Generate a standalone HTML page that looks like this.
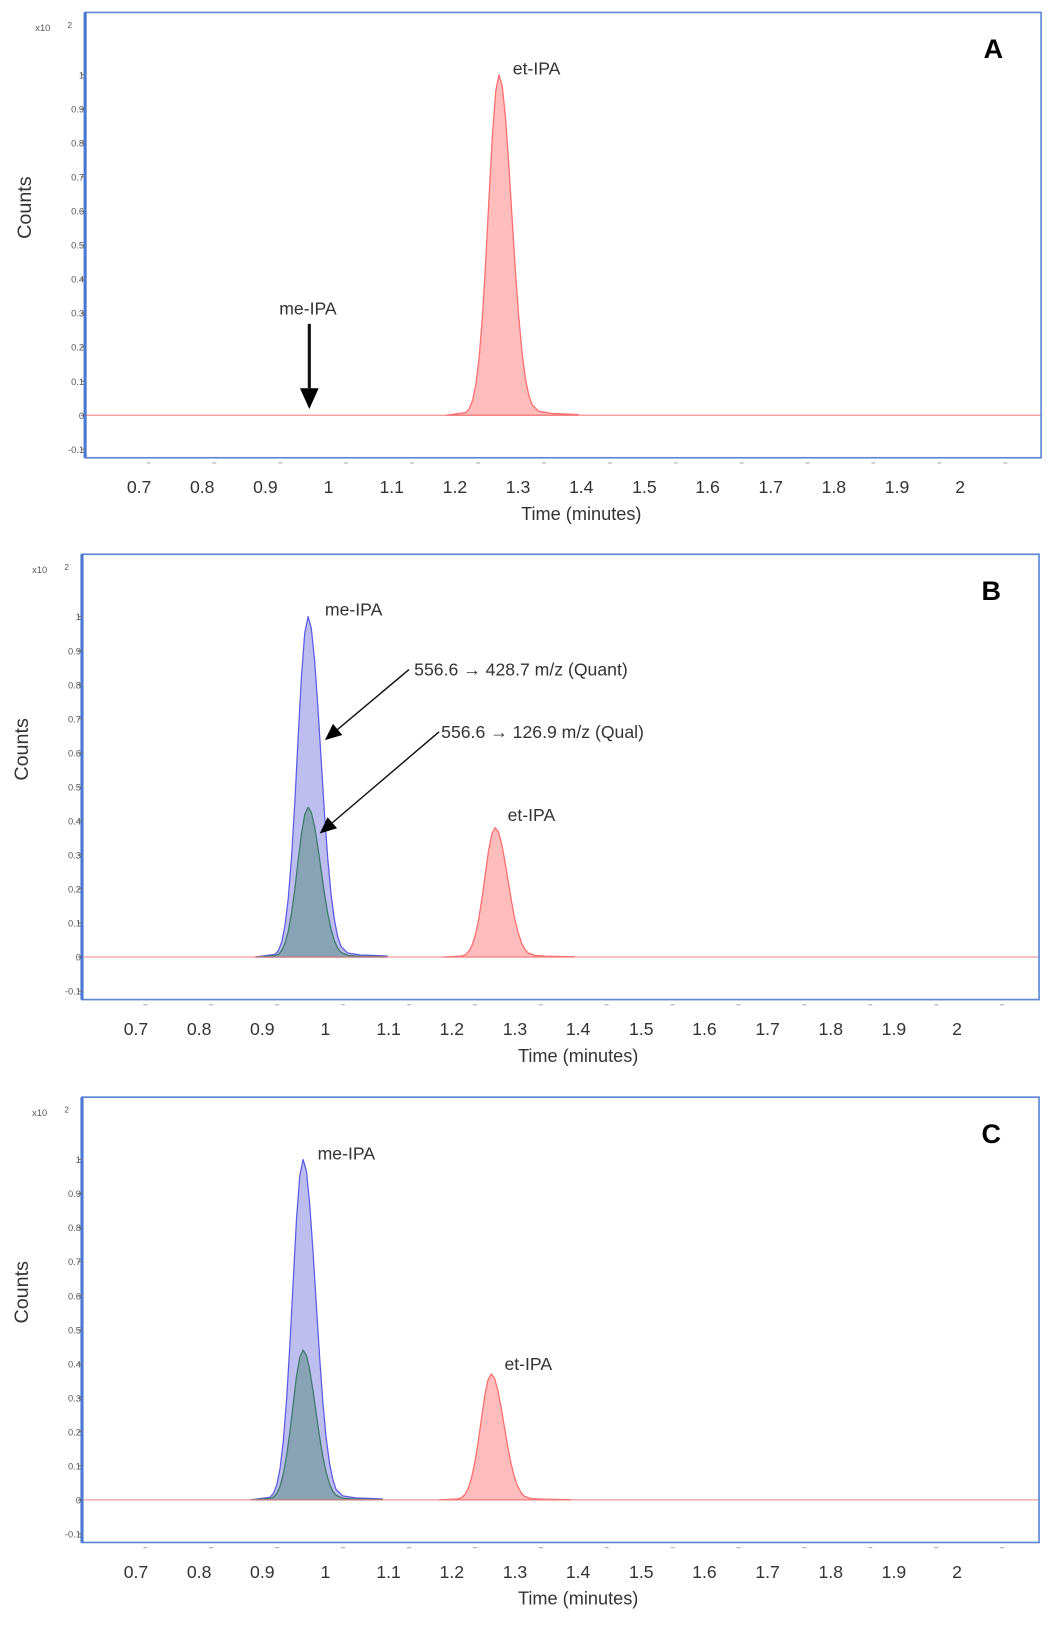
<!DOCTYPE html>
<html><head><meta charset="utf-8"><style>
html,body{margin:0;padding:0;background:#fff;}
svg{display:block;font-family:"Liberation Sans",sans-serif;}
</style></head><body>
<svg id="c" width="1050" height="1628" viewBox="0 0 1050 1628" xmlns="http://www.w3.org/2000/svg"><g id="root" transform="scale(1.038)"></g></svg>
<script>
// ---- data ----
const xTickValues = [0.7,0.8,0.9,1.0,1.1,1.2,1.3,1.4,1.5,1.6,1.7,1.8,1.9,2.0];
const xTickLabels = ["0.7","0.8","0.9","1","1.1","1.2","1.3","1.4","1.5","1.6","1.7","1.8","1.9","2"];
const yTickValues = [-0.1,0,0.1,0.2,0.3,0.4,0.5,0.6,0.7,0.8,0.9,1.0];
const yTickLabels = ["-0.1","0","0.1","0.2","0.3","0.4","0.5","0.6","0.7","0.8","0.9","1"];
const panelNames = ["A","B","C"];
// Panel A: et-IPA
const aEtTimes = [1.155,1.185,1.19,1.195,1.2,1.205,1.21,1.215,1.22,1.225,1.23,1.235,1.24,1.245,1.25,1.255,1.26,1.265,1.27,1.275,1.28,1.285,1.295,1.315,1.355];
const aEtCounts = [0,0.008,0.019,0.044,0.092,0.172,0.295,0.458,0.644,0.823,0.952,1,0.966,0.871,0.732,0.575,0.421,0.288,0.183,0.109,0.06,0.031,0.012,0.005,0.002];
// Panel B
const bMeTimes = [0.87,0.90,0.905,0.91,0.915,0.92,0.925,0.93,0.935,0.94,0.945,0.95,0.955,0.96,0.965,0.97,0.975,0.98,0.985,0.99,0.995,1.0,1.01,1.03,1.07];
const bMeQuant = [0,0.008,0.019,0.044,0.092,0.172,0.295,0.458,0.644,0.823,0.952,1,0.966,0.871,0.732,0.575,0.421,0.288,0.183,0.109,0.06,0.031,0.012,0.006,0.003];
const bMeQual = [0,0.004,0.008,0.019,0.04,0.076,0.13,0.2,0.283,0.362,0.419,0.44,0.425,0.383,0.322,0.253,0.185,0.127,0.081,0.048,0.026,0.014,0.005,0.002,0.001];
const bEtTimes = [1.154,1.184,1.189,1.194,1.199,1.204,1.209,1.214,1.219,1.224,1.229,1.234,1.239,1.244,1.249,1.254,1.259,1.264,1.269,1.274,1.279,1.284,1.294,1.314,1.354];
const bEtCounts = [0,0.003,0.007,0.017,0.035,0.065,0.112,0.174,0.245,0.313,0.362,0.38,0.367,0.331,0.278,0.219,0.16,0.109,0.07,0.041,0.023,0.012,0.005,0.002,0.001];
// Panel C
const cMeTimes = [0.8625,0.8925,0.8975,0.9025,0.9075,0.9125,0.9175,0.9225,0.9275,0.9325,0.9375,0.9425,0.9475,0.9525,0.9575,0.9625,0.9675,0.9725,0.9775,0.9825,0.9875,0.9925,1.0025,1.0225,1.0625];
const cMeQuant = [0,0.008,0.019,0.044,0.092,0.172,0.295,0.458,0.644,0.823,0.952,1,0.966,0.871,0.732,0.575,0.421,0.288,0.183,0.109,0.06,0.031,0.012,0.006,0.003];
const cMeQual = [0,0.004,0.008,0.019,0.04,0.076,0.13,0.2,0.283,0.362,0.419,0.44,0.425,0.383,0.322,0.253,0.185,0.127,0.081,0.048,0.026,0.014,0.005,0.002,0.001];
const cEtTimes = [1.148,1.178,1.183,1.188,1.193,1.198,1.203,1.208,1.213,1.218,1.223,1.228,1.233,1.238,1.243,1.248,1.253,1.258,1.263,1.268,1.273,1.278,1.288,1.308,1.348];
const cEtCounts = [0,0.003,0.007,0.016,0.034,0.064,0.109,0.169,0.238,0.305,0.352,0.37,0.357,0.322,0.271,0.213,0.156,0.107,0.068,0.04,0.022,0.011,0.004,0.002,0.001];

const svg = document.getElementById('root');
const NS = 'http://www.w3.org/2000/svg';
function mk(tag, attrs, parent){const e=document.createElementNS(NS,tag);for(const k in attrs)e.setAttribute(k,attrs[k]);(parent||svg).appendChild(e);return e;}
function txt(s, attrs, parent){const e=mk('text',attrs,parent);e.textContent=s;return e;}

const panels = [
 {left:82, top:12, right:1003, bottom:441, dx:0, series:[{t:aEtTimes,v:aEtCounts,fill:'#ffbcbc',stroke:'#ff6a6a',name:'et-ipa-peak'}]},
 {left:79, top:534, right:1001, bottom:963, dx:-3, series:[
   {t:bMeTimes,v:bMeQuant,fill:'#bdbdf0',stroke:'#5a5ae6',name:'me-ipa-quant-peak'},
   {t:bMeTimes,v:bMeQual,fill:'#88a2b6',stroke:'#3d7a68',name:'me-ipa-qual-peak'},
   {t:bEtTimes,v:bEtCounts,fill:'#ffbcbc',stroke:'#ff6a6a',name:'et-ipa-peak'}]},
 {left:79, top:1057, right:1001, bottom:1486, dx:-3, series:[
   {t:cMeTimes,v:cMeQuant,fill:'#bdbdf0',stroke:'#5a5ae6',name:'me-ipa-quant-peak'},
   {t:cMeTimes,v:cMeQual,fill:'#88a2b6',stroke:'#3d7a68',name:'me-ipa-qual-peak'},
   {t:cEtTimes,v:cEtCounts,fill:'#ffbcbc',stroke:'#ff6a6a',name:'et-ipa-peak'}]}
];

panels.forEach((p,i)=>{
  const g = mk('g',{});
  
  
  const off = p.top-12;
  const x = t => 141 + p.dx + (t-0.7)*635;
  const lx = t => 134 + p.dx + (t-0.7)*608.5;
  const y = v => off + 400 - v*328;
  p.series.forEach(s=>{
    let d = 'M'+x(s.t[0])+','+y(0);
    s.t.forEach((t,k)=>{d+=' L'+x(t).toFixed(1)+','+y(s.v[k]).toFixed(1);});
    d+=' L'+x(s.t[s.t.length-1])+','+y(0)+' Z';
    const path = mk('path',{d:d,fill:s.fill,stroke:s.stroke,'stroke-width':1.2,'stroke-linejoin':'round'},g);
    
    
  });
  const bl = mk('line',{x1:p.left,x2:p.right,y1:y(0),y2:y(0),stroke:'#f08080','stroke-width':1},g);
  
  
  const fr = mk('rect',{x:p.left,y:p.top,width:p.right-p.left,height:p.bottom-p.top,fill:'none',stroke:'#5b87d6','stroke-width':1.6},g);
  
  
  mk('line',{x1:p.left,x2:p.left,y1:p.top,y2:p.bottom,stroke:'#4a78d0','stroke-width':3},g);
  yTickValues.forEach((v,k)=>{
    mk('line',{x1:p.left-4,x2:p.left,y1:y(v),y2:y(v),stroke:'#777','stroke-width':1},g);
    const tl = txt(yTickLabels[k],{x:p.left-1,y:y(v)+3.5,'font-size':9,fill:'#555','text-anchor':'end'},g);
    
    
  });
  const ex = txt('x10',{x:p.left-48,y:off+30,'font-size':9,fill:'#555'},g);
  
  
  txt('2',{x:p.left-17,y:off+27,'font-size':8,fill:'#555'},g);
  const yt = txt('Counts',{x:0,y:0,'font-size':19,fill:'#333','text-anchor':'middle',transform:'translate('+(p.left-52)+','+(off+200)+') rotate(-90)'},g);
  
  
  xTickValues.forEach((t,k)=>{
    mk('line',{x1:x(t),x2:x(t)+4,y1:p.bottom+5,y2:p.bottom+5,stroke:'#aaa','stroke-width':1},g);
    const tl = txt(xTickLabels[k],{x:lx(t),y:off+475,'font-size':17,fill:'#333','text-anchor':'middle'},g);
    
    
  });
  const xt = txt('Time (minutes)',{x:560+p.dx,y:off+501,'font-size':17.5,fill:'#333','text-anchor':'middle'},g);
  
  
  const pl = txt(panelNames[i],{x:p.right-46,y:off+56,'font-size':26,'font-weight':'bold',fill:'#000','text-anchor':'middle'},g);
  
  
});

function label(s,x,y,name,size){const t=txt(s,{x:x,y:y,'font-size':size||17,fill:'#333'});return t;}
function arrow(x1,y1,x2,y2,name,w){
  const g=mk('g',{});
  const a=Math.atan2(y2-y1,x2-x1), L=w?20:16, W=w?9:7;
  const bx=x2-L*Math.cos(a), by=y2-L*Math.sin(a);
  mk('line',{x1:x1,y1:y1,x2:bx,y2:by,stroke:'#111','stroke-width':w||1.4},g);
  const px=-Math.sin(a)*W, py=Math.cos(a)*W;
  mk('polygon',{points:`${x2},${y2} ${bx+px},${by+py} ${bx-px},${by-py}`,fill:'#000'},g);
}
label('et-IPA',494,72,'et-ipa-label');
label('me-IPA',269,303,'me-ipa-label');
arrow(298,312,298,394,'me-ipa-arrow',3);
label('me-IPA',313,593,'me-ipa-label');
label('556.6 \u2192 428.7 m/z (Quant)',399,651,'quant-transition-label');
arrow(394,645,313,713,'quant-arrow');
label('556.6 \u2192 126.9 m/z (Qual)',425,711,'qual-transition-label');
arrow(423,705,308,803,'qual-arrow');
label('et-IPA',489,791,'et-ipa-label');
label('me-IPA',306,1117,'me-ipa-label');
label('et-IPA',486,1320,'et-ipa-label');
</script>
</body></html>
